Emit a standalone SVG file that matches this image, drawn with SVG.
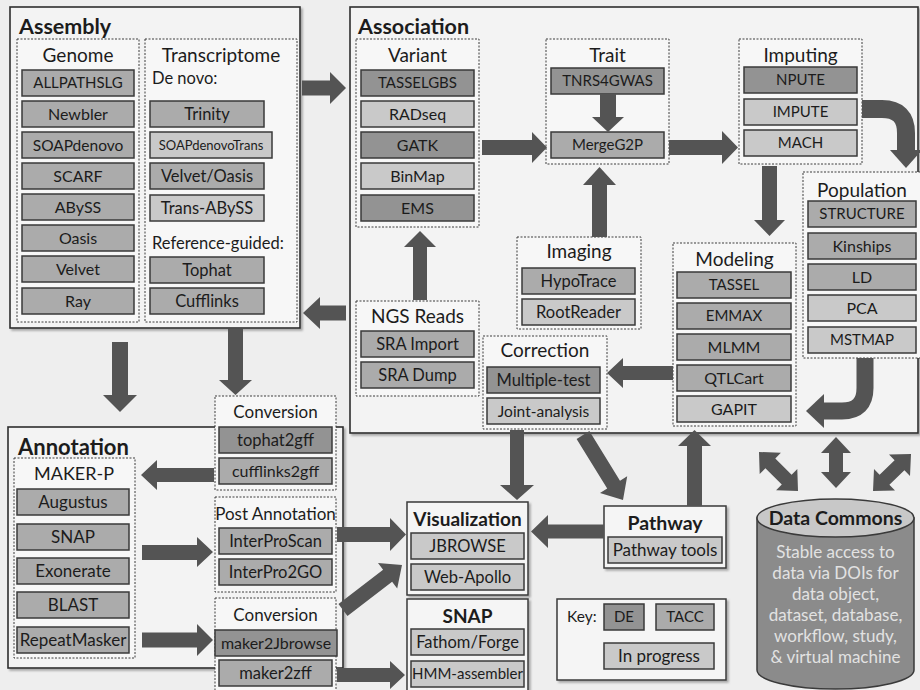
<svg xmlns="http://www.w3.org/2000/svg" width="920" height="690" viewBox="0 0 920 690">
<defs>
<filter id="sh" x="-5%" y="-5%" width="115%" height="115%">
<feDropShadow dx="2" dy="2" stdDeviation="1.2" flood-color="#777" flood-opacity="0.6"/>
</filter>
</defs>
<style>
text{font-family:Lato,"Liberation Sans",sans-serif;fill:#1c1c1c}
.c{fill:#f3f3f3;stroke:#2e2e2e;stroke-width:1.6}
.s{fill:#f5f5f5;stroke:#3a3a3a;stroke-width:1.5}
.d{fill:#f7f7f7;stroke:#3c3c3c;stroke-width:1;stroke-dasharray:2 1.5}
.de{fill:#939393;stroke:#3a3a3a;stroke-width:1.5}
.tc{fill:#ababab;stroke:#3a3a3a;stroke-width:1.5}
.pr{fill:#c9c9c9;stroke:#3a3a3a;stroke-width:1.5}
.t{font-size:15px;text-anchor:middle}
.g{font-size:16px;text-anchor:middle}
.u{font-size:16.5px;text-anchor:middle}
.h{font-size:19px;text-anchor:middle}
.h2{font-size:17px;text-anchor:middle}
.b{font-size:21.5px;font-weight:bold}
.bm{font-size:19px;font-weight:bold;text-anchor:middle}
.l{font-size:16.5px}
.ar{fill:#545454}
.arl{fill:none;stroke:#545454}
.w{font-size:17px;text-anchor:middle;fill:#e2e2e2}
</style>
<rect width="920" height="690" fill="#eeeeee"/>

<g id="assembly">
<rect class="c" x="10" y="7" width="290" height="321" filter="url(#sh)"/>
<text class="b" x="19" y="34">Assembly</text>
<g id="genome">
<rect class="d" x="17" y="39" width="122" height="283"/>
<text class="h" x="78" y="62">Genome</text>
<rect class="tc" x="22" y="70" width="112" height="26"/><text class="t" x="78" y="88">ALLPATHSLG</text>
<rect class="tc" x="22" y="101" width="112" height="26"/><text class="g" x="78" y="119.5">Newbler</text>
<rect class="tc" x="22" y="132" width="112" height="26"/><text class="g" x="78" y="150.5" style="font-size:15.5px">SOAPdenovo</text>
<rect class="tc" x="22" y="163" width="112" height="26"/><text class="g" x="78" y="181.5">SCARF</text>
<rect class="tc" x="22" y="194" width="112" height="26"/><text class="g" x="78" y="212.5">ABySS</text>
<rect class="tc" x="22" y="225" width="112" height="26"/><text class="g" x="78" y="243.5">Oasis</text>
<rect class="tc" x="22" y="256" width="112" height="26"/><text class="g" x="78" y="274.5">Velvet</text>
<rect class="tc" x="22" y="288" width="112" height="26"/><text class="g" x="78" y="306.5">Ray</text>
</g>
<g id="transcriptome">
<rect class="d" x="145" y="39" width="152" height="283"/>
<text class="h" x="221" y="62">Transcriptome</text>
<text class="l" x="152" y="84">De novo:</text>
<rect class="tc" x="150" y="101" width="114" height="26"/><text class="u" x="207" y="120">Trinity</text>
<rect class="pr" x="150" y="132" width="122" height="26"/><text class="t" x="211" y="150" style="font-size:13px">SOAPdenovoTrans</text>
<rect class="tc" x="150" y="163" width="114" height="26"/><text class="u" x="207" y="182">Velvet/Oasis</text>
<rect class="pr" x="150" y="195" width="114" height="26"/><text class="u" x="207" y="214">Trans-ABySS</text>
<text class="l" x="152" y="249">Reference-guided:</text>
<rect class="tc" x="150" y="257" width="114" height="26"/><text class="u" x="207" y="276">Tophat</text>
<rect class="tc" x="150" y="288" width="114" height="26"/><text class="u" x="207" y="307">Cufflinks</text>
</g>
</g>

<g id="association">
<rect class="c" x="350" y="7" width="568" height="426" filter="url(#sh)"/>
<text class="b" x="358" y="34">Association</text>
<g id="variant">
<rect class="d" x="356" y="39" width="123" height="188"/>
<text class="h" x="417.5" y="62">Variant</text>
<rect class="de" x="361" y="70" width="113" height="26"/><text class="t" x="417.5" y="88">TASSELGBS</text>
<rect class="pr" x="361" y="101" width="113" height="26"/><text class="g" x="417.5" y="119.5">RADseq</text>
<rect class="de" x="361" y="132" width="113" height="26"/><text class="g" x="417.5" y="150.5">GATK</text>
<rect class="pr" x="361" y="163" width="113" height="26"/><text class="g" x="417.5" y="181.5">BinMap</text>
<rect class="de" x="361" y="195" width="113" height="26"/><text class="g" x="417.5" y="213.5">EMS</text>
</g>
<g id="trait">
<rect class="d" x="546" y="39" width="123" height="125"/>
<text class="h" x="607.5" y="62">Trait</text>
<rect class="de" x="551" y="68" width="113" height="26"/><text class="t" x="607.5" y="86">TNRS4GWAS</text>
<rect class="tc" x="551" y="132" width="113" height="26"/><text class="t" x="607.5" y="150">MergeG2P</text>
</g>
<g id="imputing">
<rect class="d" x="739" y="39" width="123" height="125"/>
<text class="h" x="800.5" y="62">Imputing</text>
<rect class="de" x="744" y="67" width="113" height="26"/><text class="t" x="800.5" y="85">NPUTE</text>
<rect class="pr" x="744" y="99" width="113" height="26"/><text class="t" x="800.5" y="117">IMPUTE</text>
<rect class="pr" x="744" y="130" width="113" height="26"/><text class="t" x="800.5" y="148">MACH</text>
</g>
<g id="population">
<rect class="d" x="803" y="172" width="120" height="186"/>
<text class="h" x="862" y="197">Population</text>
<rect class="tc" x="808" y="201" width="108" height="26"/><text class="t" x="862" y="219">STRUCTURE</text>
<rect class="tc" x="808" y="233" width="108" height="26"/><text class="g" x="862" y="251.5">Kinships</text>
<rect class="tc" x="808" y="264" width="108" height="26"/><text class="g" x="862" y="282.5">LD</text>
<rect class="pr" x="808" y="295" width="108" height="26"/><text class="g" x="862" y="313.5">PCA</text>
<rect class="pr" x="808" y="327" width="108" height="26"/><text class="t" x="862" y="345">MSTMAP</text>
</g>
<g id="modeling">
<rect class="d" x="673" y="243" width="123" height="183"/>
<text class="h" x="734.5" y="266">Modeling</text>
<rect class="tc" x="677" y="272" width="114" height="26"/><text class="t" x="734" y="290">TASSEL</text>
<rect class="tc" x="677" y="303" width="114" height="26"/><text class="t" x="734" y="321">EMMAX</text>
<rect class="tc" x="677" y="334" width="114" height="26"/><text class="g" x="734" y="352.5">MLMM</text>
<rect class="tc" x="677" y="365" width="114" height="26"/><text class="g" x="734" y="383.5">QTLCart</text>
<rect class="pr" x="677" y="396" width="114" height="26"/><text class="g" x="734" y="414.5">GAPIT</text>
</g>
<g id="imaging">
<rect class="d" x="517" y="237" width="124" height="92"/>
<text class="h" x="579" y="258">Imaging</text>
<rect class="tc" x="522" y="268" width="113" height="26"/><text class="u" x="578.5" y="287">HypoTrace</text>
<rect class="pr" x="522" y="299" width="113" height="26"/><text class="u" x="578.5" y="318">RootReader</text>
</g>
<g id="ngs-reads">
<rect class="d" x="356" y="301" width="123" height="95"/>
<text class="h" x="417.5" y="323">NGS Reads</text>
<rect class="tc" x="361" y="331" width="113" height="26"/><text class="u" x="417.5" y="350">SRA Import</text>
<rect class="tc" x="361" y="362" width="113" height="26"/><text class="u" x="417.5" y="381">SRA Dump</text>
</g>
<g id="correction">
<rect class="d" x="483" y="336" width="124" height="93"/>
<text class="h" x="545" y="357">Correction</text>
<rect class="de" x="487" y="367" width="113" height="26"/><text class="u" x="543.5" y="386">Multiple-test</text>
<rect class="pr" x="487" y="398" width="113" height="26"/><text class="u" x="543.5" y="417" style="font-size:15.5px">Joint-analysis</text>
</g>
</g>

<g id="annotation">
<rect class="c" x="8" y="427" width="335" height="241" filter="url(#sh)"/>
<text class="b" x="18" y="455" style="font-size:22px">Annotation</text>
<g id="maker-p">
<rect class="d" x="14" y="458" width="121" height="200"/>
<text class="h2" x="74" y="480" style="font-size:18px">MAKER-P</text>
<rect class="tc" x="17" y="489" width="112" height="26"/><text class="u" x="73" y="508" style="font-size:17px">Augustus</text>
<rect class="tc" x="17" y="524" width="112" height="26"/><text class="u" x="73" y="543" style="font-size:17px">SNAP</text>
<rect class="tc" x="17" y="558" width="112" height="26"/><text class="u" x="73" y="577" style="font-size:17px">Exonerate</text>
<rect class="tc" x="17" y="592" width="112" height="26"/><text class="u" x="73" y="611" style="font-size:17px">BLAST</text>
<rect class="tc" x="17" y="627" width="112" height="26"/><text class="u" x="73" y="646" style="font-size:17px">RepeatMasker</text>
</g>
</g>

<g id="conversion-1">
<rect class="d" x="215" y="396" width="121" height="94"/>
<text class="h2" x="275.5" y="418">Conversion</text>
<rect class="de" x="219" y="427" width="113" height="26"/><text class="u" x="275.5" y="446">tophat2gff</text>
<rect class="tc" x="219" y="458" width="113" height="26"/><text class="u" x="275.5" y="477" style="font-size:16px">cufflinks2gff</text>
</g>
<g id="post-annotation">
<rect class="d" x="215" y="497" width="121" height="95"/>
<text class="h2" x="275.5" y="520">Post Annotation</text>
<rect class="tc" x="219" y="528" width="113" height="26"/><text class="u" x="275.5" y="547">InterProScan</text>
<rect class="tc" x="219" y="559" width="113" height="26"/><text class="u" x="275.5" y="578">InterPro2GO</text>
</g>
<g id="conversion-2">
<rect class="d" x="215" y="598" width="121" height="95"/>
<text class="h2" x="275.5" y="621">Conversion</text>
<rect class="de" x="215" y="630" width="122" height="26"/><text class="u" x="276" y="649" style="font-size:16px">maker2Jbrowse</text>
<rect class="tc" x="219" y="660" width="113" height="26"/><text class="u" x="275.5" y="679">maker2zff</text>
</g>

<g id="visualization">
<rect class="s" x="407" y="502" width="121" height="93" filter="url(#sh)"/>
<text class="bm" x="467.5" y="526">Visualization</text>
<rect class="pr" x="411" y="533" width="113" height="26"/><text class="u" x="467.5" y="552">JBROWSE</text>
<rect class="pr" x="411" y="564" width="113" height="26"/><text class="u" x="467.5" y="583">Web-Apollo</text>
</g>
<g id="snap">
<rect class="s" x="407" y="599" width="121" height="93" filter="url(#sh)"/>
<text class="bm" x="467.5" y="623">SNAP</text>
<rect class="pr" x="411" y="629" width="113" height="26"/><text class="u" x="467.5" y="648">Fathom/Forge</text>
<rect class="pr" x="411" y="661" width="113" height="26"/><text class="t" x="467.5" y="679">HMM-assembler</text>
</g>
<g id="pathway">
<rect class="s" x="604" y="506" width="122" height="62" filter="url(#sh)"/>
<text class="bm" x="665" y="530" style="font-size:19.5px">Pathway</text>
<rect class="pr" x="608" y="537" width="114" height="26"/><text class="u" x="665" y="556" style="font-size:17px">Pathway tools</text>
</g>
<g id="key">
<rect class="s" x="557" y="599" width="169" height="81" filter="url(#sh)"/>
<text x="567" y="622" style="font-size:15.5px">Key:</text>
<rect class="de" x="604" y="604" width="40" height="26"/><text class="t" x="624" y="622">DE</text>
<rect class="tc" x="656" y="604" width="58" height="26"/><text class="t" x="685" y="622">TACC</text>
<rect class="pr" x="604" y="643" width="110" height="26"/><text class="u" x="659" y="662" style="font-size:17px">In progress</text>
</g>
<g id="data-commons">
<path d="M757,518 V670 A78.5,19 0 0 0 914,670 V518 Z" fill="#8b8b8b" stroke="#3a3a3a" stroke-width="1.5"/>
<ellipse cx="835.5" cy="518" rx="78.5" ry="19" fill="#c8c8c8" stroke="#3a3a3a" stroke-width="1.5"/>
<text class="bm" x="835.5" y="525" style="font-size:19.5px">Data Commons</text>
<text class="w" x="835.5" y="558">Stable access to</text>
<text class="w" x="835.5" y="579">data via DOIs for</text>
<text class="w" x="835.5" y="600">data object,</text>
<text class="w" x="835.5" y="621">dataset, database,</text>
<text class="w" x="835.5" y="642">workflow, study,</text>
<text class="w" x="835.5" y="663">&amp; virtual machine</text>
</g>

<g id="connectors">
<path class="ar" d="M302,80.5 H330 V72 L346,88 L330,104 V95.5 H302 Z"/>
<path class="ar" d="M346,305.5 H320 V297 L303,313 L320,329 V320.5 H346 Z"/>
<path class="ar" d="M482,140 H532 V132 L547,147.5 L532,163 V155 H482 Z"/>
<path class="ar" d="M600,94 V117 H592 L608,132 L624,117 H616 V94 Z"/>
<path class="ar" d="M592,237 V185 H583 L599.5,167 L616,185 H607 V237 Z"/>
<path class="ar" d="M669,140 H722 V131 L738,147.5 L722,164 V155 H669 Z"/>
<path class="ar" d="M762,166 V220 H754 L769.5,236 L785,220 H777 V166 Z"/>
<path class="ar" d="M413,300 V247 H404 L420,231 L436,247 H427 V300 Z"/>
<path class="ar" d="M673,366 H623 V358 L607,373 L623,388 V380 H673 Z"/>
<path class="arl" stroke-width="18" d="M862,109 H882 Q906,109 906,133 V152"/>
<path class="ar" d="M890,150 L922,150 L906,168 Z"/>
<path class="arl" stroke-width="17" d="M865,358 V388 Q865,411 842,411 H822"/>
<path class="ar" d="M824,394 L824,428 L806,411 Z"/>
<path class="ar" d="M112,342 V395 H103 L120,412 L137,395 H128 V342 Z"/>
<path class="ar" d="M228,329 V380 H219 L235.5,395 L252,380 H243 V329 Z"/>
<path class="ar" d="M214,468 H157 V460 L141,475 L157,490 V482 H214 Z"/>
<path class="ar" d="M142,545 H197 V537 L213,552 L197,567 V560 H142 Z"/>
<path class="ar" d="M142,632.5 H197 V624 L213,640 L197,656 V647.5 H142 Z"/>
<path class="ar" d="M337,527 H390 V518 L406,534.5 L390,551 V542 H337 Z"/>
<path class="ar" d="M347.5,616 L392.1,581.8 L397.2,588.6 L402,565 L378,563 L383.1,569.8 L338.5,604 Z"/>
<path class="ar" d="M337,668 H390 V661 L405,675 L390,689 V682 H337 Z"/>
<path class="ar" d="M510,430 V485 H500 L517,500 L534,485 H524 V430 Z"/>
<path class="ar" d="M589.4,431.1 L620,480.8 L627.2,476.3 L623,500 L600,493.1 L607.2,488.6 L576.6,438.9 Z"/>
<path class="ar" d="M687,506 V446 H678 L694.5,430 L711,446 H702 V506 Z"/>
<path class="ar" d="M604,524.5 H548 V515 L531,531.5 L548,548 V538.5 H604 Z"/>
<path class="ar" d="M759,452 L780.9,452.7 L775.3,458.4 L791.6,474.7 L797.3,469.1 L798,491 L776.1,490.3 L781.8,484.6 L765.4,468.3 L759.7,473.9 Z"/>
<path class="ar" d="M836,437 L851,453 H843 V472 H851 L836,488 L821,472 H829 V453 H821 Z"/>
<path class="ar" d="M911,454 L910,476 L904.4,470.2 L889.4,484.8 L895,490.6 L873,491 L874,469 L879.6,474.8 L894.6,460.2 L889,454.4 Z"/>
</g>
</svg>
